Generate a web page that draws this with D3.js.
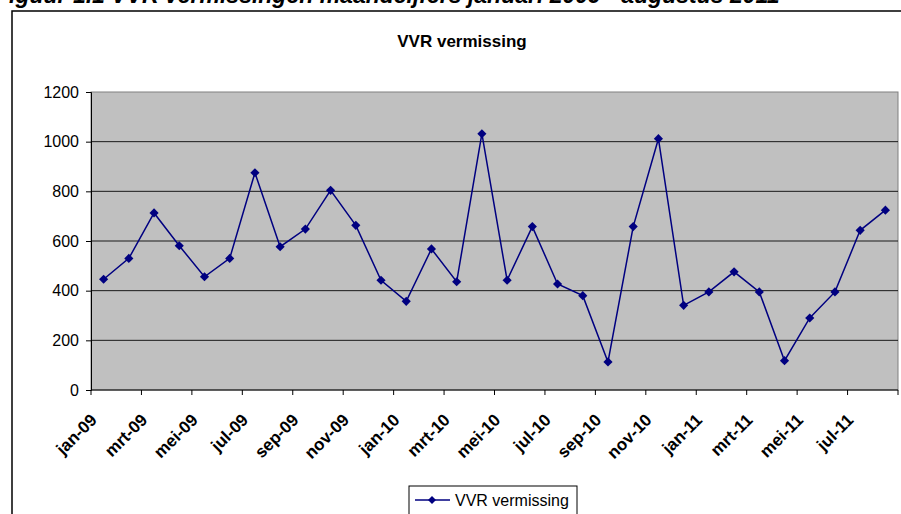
<!DOCTYPE html>
<meta charset="utf-8">
<style>
body { margin: 0; background: white; }
svg { display: block; font-family: Arial, "Liberation Sans", sans-serif; }
</style>
<script src="https://d3js.org/d3.v7.min.js"></script>
<body>
<script>
// maanden jan-09 t/m aug-11
const months = [
  'jan-09','feb-09','mrt-09','apr-09','mei-09','jun-09','jul-09','aug-09','sep-09','okt-09','nov-09','dec-09',
  'jan-10','feb-10','mrt-10','apr-10','mei-10','jun-10','jul-10','aug-10','sep-10','okt-10','nov-10','dec-10',
  'jan-11','feb-11','mrt-11','apr-11','mei-11','jun-11','jul-11','aug-11'
];
const vermissing = [
  446, 530, 713, 581, 456, 530, 875, 577, 648, 804, 663, 442,
  357, 568, 436, 1032, 442, 658, 427, 380, 113, 658, 1012, 341,
  395, 476, 395, 118, 290, 395, 643, 724
];
const yTicks = [0, 200, 400, 600, 800, 1000, 1200];
const seriesName = 'VVR vermissing';

const W = 901, H = 514;
const plot = { left: 91, right: 898, top: 92, bottom: 390 };

const svg = d3.select('body').append('svg')
  .attr('width', W)
  .attr('height', H);

// figuur-bijschrift, grotendeels buiten beeld
svg.append('text')
  .attr('x', -5)
  .attr('y', 3)
  .style('font-size', '23px')
  .style('font-weight', 'bold')
  .style('font-style', 'italic')
  .text('Figuur 1.1 VVR vermissingen maandcijfers januari 2009 - augustus 2011');

// kader van de grafiek
svg.append('rect')
  .attr('x', 12).attr('y', 11)
  .attr('width', 900).attr('height', 520)
  .attr('fill', 'white')
  .attr('stroke', 'black')
  .attr('stroke-width', 1.5);

svg.append('text')
  .attr('x', 462)
  .attr('y', 47)
  .attr('text-anchor', 'middle')
  .style('font-size', '17px')
  .style('font-weight', 'bold')
  .text(seriesName);

const x = d3.scaleBand()
  .domain(months)
  .range([plot.left, plot.right])
  .padding(0);

const y = d3.scaleLinear()
  .domain([0, 1200])
  .range([plot.bottom, plot.top]);

// plotgebied
svg.append('rect')
  .attr('x', plot.left).attr('y', plot.top)
  .attr('width', plot.right - plot.left)
  .attr('height', plot.bottom - plot.top)
  .attr('fill', '#c0c0c0')
  .attr('stroke', '#808080')
  .attr('stroke-width', 1);

svg.append('g')
  .selectAll('line')
  .data(yTicks.filter(d => d > 0 && d < 1200))
  .join('line')
    .attr('x1', plot.left).attr('x2', plot.right)
    .attr('y1', d => y(d)).attr('y2', d => y(d))
    .attr('stroke', '#1a1a1a')
    .attr('stroke-width', 1);

// y-as
const yAxis = svg.append('g')
  .attr('transform', `translate(${plot.left},0)`)
  .call(d3.axisLeft(y).tickValues(yTicks).tickFormat(d3.format('d')).tickSize(5).tickPadding(7));
yAxis.select('.domain').attr('stroke', 'black');
yAxis.selectAll('.tick line').attr('stroke', 'black');
yAxis.selectAll('text')
  .style('font-size', '16px')
  .style('font-family', 'Arial, "Liberation Sans", sans-serif')
  .attr('fill', 'black');

// x-as: streepjes tussen categorieen, label om de twee maanden
const labelled = months.filter((m, i) => i % 2 === 0);
const xAxisG = svg.append('g');
xAxisG.append('line')
  .attr('x1', plot.left).attr('x2', plot.right)
  .attr('y1', plot.bottom).attr('y2', plot.bottom)
  .attr('stroke', 'black');
const tickXs = labelled.map(m => x(m)).concat([plot.right]);
xAxisG.selectAll('line.tk')
  .data(tickXs)
  .join('line')
    .attr('class', 'tk')
    .attr('x1', d => d).attr('x2', d => d)
    .attr('y1', plot.bottom).attr('y2', plot.bottom + 5)
    .attr('stroke', 'black');
xAxisG.selectAll('text')
  .data(labelled)
  .join('text')
    .attr('transform', d => `translate(${x(d) + 7},${plot.bottom + 31}) rotate(-45)`)
    .attr('text-anchor', 'end')
    .style('font-size', '17px')
    .style('font-weight', 'bold')
    .text(d => d);

// lijn en markers
const cx = d => x(d) + x.bandwidth() / 2;
const pts = months.map((m, i) => ({ m, v: vermissing[i] }));

svg.append('path')
  .datum(pts)
  .attr('fill', 'none')
  .attr('stroke', '#000080')
  .attr('stroke-width', 1.5)
  .attr('d', d3.line().x(d => cx(d.m)).y(d => y(d.v)));

svg.append('g')
  .selectAll('path')
  .data(pts)
  .join('path')
    .attr('transform', d => `translate(${cx(d.m)},${y(d.v)}) rotate(45)`)
    .attr('d', d3.symbol().type(d3.symbolSquare).size(42))
    .attr('fill', '#000080');

// legenda
const lg = svg.append('g');
lg.append('rect')
  .attr('x', 409).attr('y', 486)
  .attr('width', 168).attr('height', 40)
  .attr('fill', 'white')
  .attr('stroke', 'black');
lg.append('line')
  .attr('x1', 415).attr('x2', 450)
  .attr('y1', 500).attr('y2', 500)
  .attr('stroke', '#000080')
  .attr('stroke-width', 1.5);
lg.append('path')
  .attr('transform', 'translate(432,500) rotate(45)')
  .attr('d', d3.symbol().type(d3.symbolSquare).size(32))
  .attr('fill', '#000080');
lg.append('text')
  .attr('x', 455).attr('y', 506)
  .style('font-size', '16px')
  .text(seriesName);
</script>
</body>
</html>
